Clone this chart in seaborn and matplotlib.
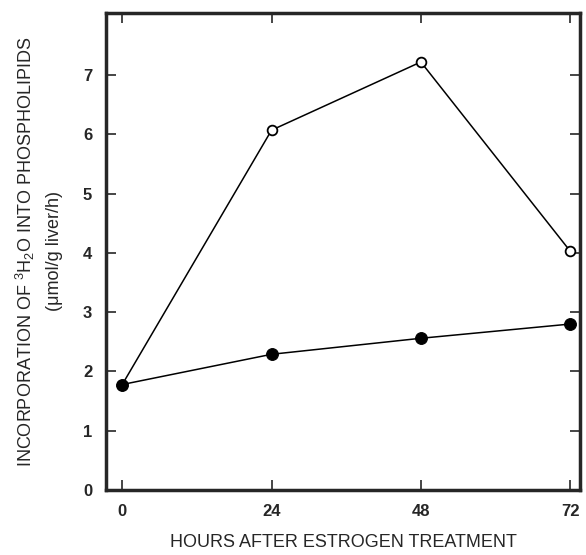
import pandas as pd
import matplotlib.pyplot as plt
import seaborn as sns

hours = [0, 24, 48, 72]
open_values = [1.78, 6.07, 7.22, 4.03]
filled_values = [1.78, 2.29, 2.56, 2.8]
x_ticks = [0, 24, 48, 72]
y_ticks = [0, 1, 2, 3, 4, 5, 6, 7]

sns.set_style("ticks")
plt.rcParams["font.family"] = ["Liberation Sans", "DejaVu Sans"]
plt.rcParams["mathtext.default"] = "regular"

df = pd.DataFrame({"hours": hours, "open": open_values, "filled": filled_values})

fig = plt.figure(figsize=(5.86, 5.55), dpi=100)
ax = fig.add_axes([0.181, 0.117, 0.809, 0.860])

sns.lineplot(data=df, x="hours", y="open", ax=ax, color="black", linewidth=1.1,
             marker="o", markersize=7, markerfacecolor="white",
             markeredgecolor="black", markeredgewidth=1.3)
sns.lineplot(data=df, x="hours", y="filled", ax=ax, color="black", linewidth=1.1,
             marker="o", markersize=8.5, markerfacecolor="black",
             markeredgecolor="black")

ax.set_xlim(-2.6, 73.6)
ax.set_ylim(0, 8.05)
ax.set_xticks(x_ticks)
ax.set_yticks(y_ticks)
ax.tick_params(direction="in", length=7, width=1.2, top=True, right=True,
               labelsize=12, pad=10)
for lab in ax.get_xticklabels() + ax.get_yticklabels():
    lab.set_fontweight("bold")
for sp in ax.spines.values():
    sp.set_visible(True)
    sp.set_linewidth(2.5)

ax.set_xlabel("HOURS AFTER ESTROGEN TREATMENT", fontsize=13, labelpad=11)
ax.set_ylabel("INCORPORATION OF $^{3}$H$_{2}$O INTO PHOSPHOLIPIDS\n(μmol/g liver/h)",
              fontsize=13, labelpad=14, linespacing=1.7)

fig.savefig("out.png", dpi=100)
plt.close(fig)
